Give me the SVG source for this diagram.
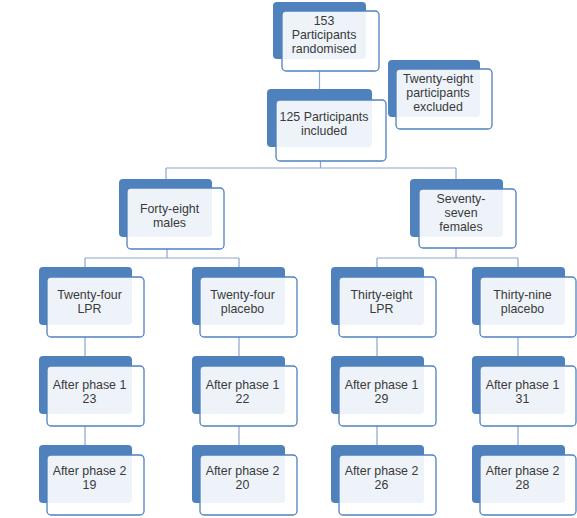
<svg xmlns="http://www.w3.org/2000/svg" width="577" height="518" viewBox="0 0 577 518">
<style>
.bk{fill:#4f81bd;}
.fr{fill:#ffffff;fill-opacity:0.9;stroke:#4f81bd;stroke-width:1.3;}
.t{font-family:"Liberation Sans",Arial,sans-serif;font-size:12.4px;fill:#3a3a3a;text-anchor:middle;}
.c{stroke:#8ba6cc;stroke-width:1.2;fill:none;}
</style>
<rect width="577" height="518" fill="#ffffff"/>
<g id="connectors">
<path class="c" d="M319.5 71V89"/>
<path class="c" d="M320.5 161V168M166 168H456M166 168V179M456 168V179"/>
<path class="c" d="M167 249V258M85 258H239M85 258V267M239 258V267"/>
<path class="c" d="M456 248V258M377 258H518M377 258V267M518 258V267"/>
<path class="c" d="M85 337V356M85 426V445"/>
<path class="c" d="M239 337V356M239 426V445"/>
<path class="c" d="M377 337V356M377 426V445"/>
<path class="c" d="M518 337V356M518 426V445"/>
</g>
<g id="n-randomised">
<rect class="bk" x="273" y="2" width="93" height="57" rx="4"/>
<rect class="fr" x="282" y="11" width="97" height="60" rx="4"/>
<text class="t" x="324" y="24.5">153</text>
<text class="t" x="324" y="38.5">Participants</text>
<text class="t" x="324" y="52.5">randomised</text>
</g>
<g id="n-excluded">
<rect class="bk" x="388" y="60" width="92" height="57" rx="4"/>
<rect class="fr" x="396" y="69" width="96" height="60" rx="4"/>
<text class="t" x="438" y="83">Twenty-eight</text>
<text class="t" x="438" y="97">participants</text>
<text class="t" x="438" y="111">excluded</text>
</g>
<g id="n-included">
<rect class="bk" x="267" y="89" width="105" height="58" rx="4"/>
<rect class="fr" x="276" y="100" width="110" height="61" rx="4"/>
<text class="t" x="324" y="120.5">125 Participants</text>
<text class="t" x="324" y="134.5">included</text>
</g>
<g id="n-males">
<rect class="bk" x="119" y="179" width="93" height="58" rx="4"/>
<rect class="fr" x="127" y="188" width="97" height="61" rx="4"/>
<text class="t" x="169.5" y="212.5">Forty-eight</text>
<text class="t" x="169.5" y="226.5">males</text>
</g>
<g id="n-females">
<rect class="bk" x="410" y="179" width="93" height="58" rx="4"/>
<rect class="fr" x="419" y="189" width="97" height="59" rx="4"/>
<text class="t" x="461" y="203">Seventy-</text>
<text class="t" x="461" y="217">seven</text>
<text class="t" x="461" y="231">females</text>
</g>
<g id="n-m-lpr">
<rect class="bk" x="39" y="267" width="93" height="58" rx="4"/>
<rect class="fr" x="47" y="277" width="97" height="60" rx="4"/>
<text class="t" x="89.5" y="298.5">Twenty-four</text>
<text class="t" x="89.5" y="312.5">LPR</text>
</g>
<g id="n-m-placebo">
<rect class="bk" x="192" y="267" width="93" height="58" rx="4"/>
<rect class="fr" x="200" y="277" width="97" height="60" rx="4"/>
<text class="t" x="242.5" y="298.5">Twenty-four</text>
<text class="t" x="242.5" y="312.5">placebo</text>
</g>
<g id="n-f-lpr">
<rect class="bk" x="331" y="267" width="93" height="58" rx="4"/>
<rect class="fr" x="339" y="277" width="97" height="60" rx="4"/>
<text class="t" x="381.5" y="298.5">Thirty-eight</text>
<text class="t" x="381.5" y="312.5">LPR</text>
</g>
<g id="n-f-placebo">
<rect class="bk" x="472" y="267" width="93" height="58" rx="4"/>
<rect class="fr" x="480" y="277" width="96" height="60" rx="4"/>
<text class="t" x="522.5" y="298.5">Thirty-nine</text>
<text class="t" x="522.5" y="312.5">placebo</text>
</g>
<g id="n-m-lpr-p1">
<rect class="bk" x="39" y="356" width="93" height="58" rx="4"/>
<rect class="fr" x="47" y="366" width="97" height="60" rx="4"/>
<text class="t" x="89.5" y="388.5">After phase 1</text>
<text class="t" x="89.5" y="402.5">23</text>
</g>
<g id="n-m-placebo-p1">
<rect class="bk" x="192" y="356" width="93" height="58" rx="4"/>
<rect class="fr" x="200" y="366" width="97" height="60" rx="4"/>
<text class="t" x="242.5" y="388.5">After phase 1</text>
<text class="t" x="242.5" y="402.5">22</text>
</g>
<g id="n-f-lpr-p1">
<rect class="bk" x="331" y="356" width="93" height="58" rx="4"/>
<rect class="fr" x="339" y="366" width="97" height="60" rx="4"/>
<text class="t" x="381.5" y="388.5">After phase 1</text>
<text class="t" x="381.5" y="402.5">29</text>
</g>
<g id="n-f-placebo-p1">
<rect class="bk" x="472" y="356" width="93" height="58" rx="4"/>
<rect class="fr" x="480" y="366" width="96" height="60" rx="4"/>
<text class="t" x="522.5" y="388.5">After phase 1</text>
<text class="t" x="522.5" y="402.5">31</text>
</g>
<g id="n-m-lpr-p2">
<rect class="bk" x="39" y="445" width="93" height="58" rx="4"/>
<rect class="fr" x="47" y="455" width="97" height="60" rx="4"/>
<text class="t" x="89.5" y="474.5">After phase 2</text>
<text class="t" x="89.5" y="488.5">19</text>
</g>
<g id="n-m-placebo-p2">
<rect class="bk" x="192" y="445" width="93" height="58" rx="4"/>
<rect class="fr" x="200" y="455" width="97" height="60" rx="4"/>
<text class="t" x="242.5" y="474.5">After phase 2</text>
<text class="t" x="242.5" y="488.5">20</text>
</g>
<g id="n-f-lpr-p2">
<rect class="bk" x="331" y="445" width="93" height="58" rx="4"/>
<rect class="fr" x="339" y="455" width="97" height="60" rx="4"/>
<text class="t" x="381.5" y="474.5">After phase 2</text>
<text class="t" x="381.5" y="488.5">26</text>
</g>
<g id="n-f-placebo-p2">
<rect class="bk" x="472" y="445" width="93" height="58" rx="4"/>
<rect class="fr" x="480" y="455" width="96" height="60" rx="4"/>
<text class="t" x="522.5" y="474.5">After phase 2</text>
<text class="t" x="522.5" y="488.5">28</text>
</g>
</svg>
